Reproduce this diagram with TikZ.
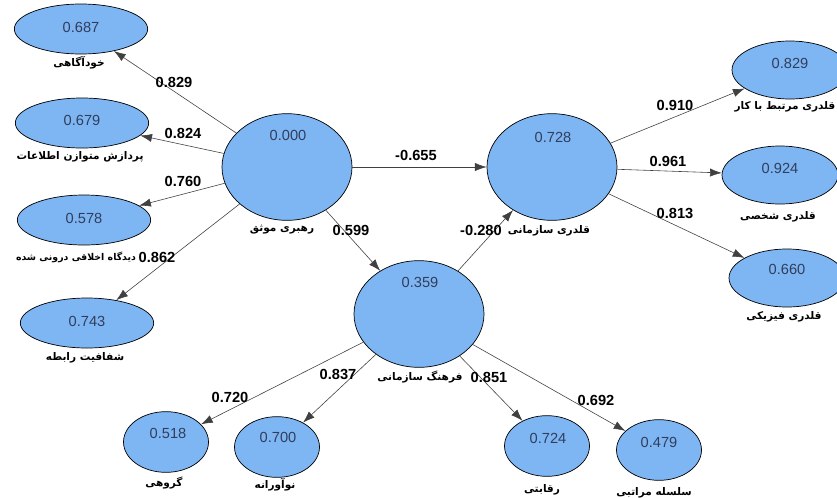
\documentclass[tikz,border=0pt]{standalone}
\usepackage{fontspec}
\setmainfont{Liberation Sans}
\newfontfamily\fa[Script=Arabic]{DejaVu Sans}
\TeXXeTstate=1
\usetikzlibrary{shapes.geometric,arrows.meta}
\definecolor{lvfill}{RGB}{126,182,244}
\definecolor{valtext}{RGB}{48,62,92}
\tikzset{
  lv/.style={ellipse,draw=black,line width=0.6pt,fill=lvfill,inner sep=0pt},
  big/.style={lv,minimum width=3.9cm,minimum height=3.2cm},
  side/.style={lv,minimum width=4.0cm,minimum height=1.5cm},
  rside/.style={lv,minimum width=3.48cm,minimum height=1.74cm},
  low/.style={lv,minimum width=2.55cm,minimum height=1.82cm},
  val/.style={text=valtext,font=\fontsize{12.5}{14}\selectfont,inner sep=0pt},
  coef/.style={font=\fontsize{12.5}{14}\selectfont\bfseries,inner sep=0pt},
  lab/.style={font=\fa\fontsize{9}{11}\selectfont\bfseries,inner sep=0pt},
  path/.style={draw=black!75,line width=0.5pt,-{Latex[length=10pt,width=7pt]}}
}
\newcommand{\rtl}[1]{\beginR #1\endR}
\begin{document}
\begin{tikzpicture}[x=0.03cm,y=-0.03cm]
\useasboundingbox (0,0) rectangle (837,497);
% latent variables
\node[big] (rl) at (287,167) {};
\node[big] (wb) at (552,167) {};
\node[big] (oc) at (419,314) {};
\node[val] (rlv) at (288,135) {0.000};
\node[val] (wbv) at (553,137) {0.728};
\node[val] (ocv) at (420,282) {0.359};
\node[lab] (rlt) at (282,230) {\rtl{رهبری موثق}};
\node[lab] (wbt) at (549,231) {\rtl{قلدری سازمانی}};
\node[lab] (oct) at (420,377) {\rtl{فرهنگ سازمانی}};
% authentic leadership dimensions
\node[side] (sa) at (81,29) {};
\node[side] (bp) at (82,123) {};
\node[side] (im) at (84,220) {};
\node[side] (rt) at (87,323) {};
\node[val] (sav) at (81,27) {0.687};
\node[val] (bpv) at (82,120) {0.679};
\node[val] (imv) at (84,218) {0.578};
\node[val] (rtv) at (87,321) {0.743};
\node[lab] (sat) at (79,63) {\rtl{خودآگاهی}};
\node[lab] (bpt) at (80,157) {\rtl{پردازش متوازن اطلاعات}};
\node[lab,font=\fa\fontsize{8}{10}\selectfont\bfseries] (imt) at (76,257) {\rtl{دیدگاه اخلاقی درونی شده}};
\node[lab] (rtt) at (85,358) {\rtl{شفافیت رابطه}};
% bullying dimensions
\node[rside] (b1) at (790,70) {};
\node[rside] (b2) at (780,175) {};
\node[rside] (b3) at (787,278) {};
\node[val] (b1v) at (790,63) {0.829};
\node[val] (b2v) at (780,168) {0.924};
\node[val] (b3v) at (787,269) {0.660};
\node[lab] (b1t) at (785,107) {\rtl{قلدری مرتبط با کار}};
\node[lab] (b2t) at (778,217) {\rtl{قلدری شخصی}};
\node[lab] (b3t) at (784,317) {\rtl{قلدری فیزیکی}};
% culture dimensions
\node[low] (c1) at (166,442) {};
\node[low] (c2) at (277,447) {};
\node[low] (c3) at (547,446) {};
\node[low] (c4) at (659,450) {};
\node[val] (c1v) at (168,433) {0.518};
\node[val] (c2v) at (278,437) {0.700};
\node[val] (c3v) at (548,438) {0.724};
\node[val] (c4v) at (659,442) {0.479};
\node[lab] (c1t) at (164,483) {\rtl{گروهی}};
\node[lab] (c2t) at (275,485) {\rtl{نوآورانه}};
\node[lab] (c3t) at (542,490) {\rtl{رقابتی}};
\node[lab] (c4t) at (654,493) {\rtl{سلسله مراتبی}};
% paths
\draw[path] (rl) -- (sa);
\draw[path] (rl) -- (bp);
\draw[path] (rl) -- (im);
\draw[path] (rl) -- (rt);
\draw[path] (rl) -- (wb);
\draw[path] (rl) -- (oc);
\draw[path] (oc) -- (wb);
\draw[path] (wb) -- (b1);
\draw[path] (wb) -- (b2);
\draw[path] (wb) -- (b3);
\draw[path] (oc) -- (c1);
\draw[path] (oc) -- (c2);
\draw[path] (oc) -- (c3);
\draw[path] (oc) -- (c4);
% coefficients
\node[coef] (k1) at (174,82) {0.829};
\node[coef] (k2) at (183,133) {0.824};
\node[coef] (k3) at (183,181) {0.760};
\node[coef] (k4) at (157,257) {0.862};
\node[coef] (k5) at (416,155) {-0.655};
\node[coef] (k6) at (351,230) {0.599};
\node[coef] (k7) at (481,230) {-0.280};
\node[coef] (k8) at (675,105) {0.910};
\node[coef] (k9) at (668,161) {0.961};
\node[coef] (k10) at (675,213) {0.813};
\node[coef] (k11) at (230,397) {0.720};
\node[coef] (k12) at (338,374) {0.837};
\node[coef] (k13) at (489,377) {0.851};
\node[coef] (k14) at (596,400) {0.692};
\end{tikzpicture}
\end{document}
